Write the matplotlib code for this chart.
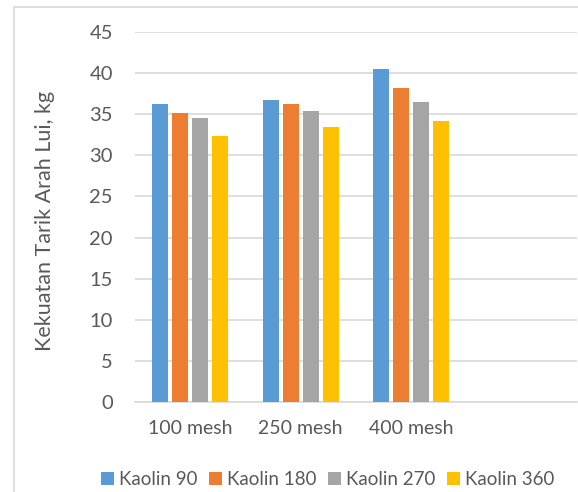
import numpy as np
import matplotlib.pyplot as plt
from matplotlib.patches import Rectangle

categories = ['100 mesh', '250 mesh', '400 mesh', '']
series = ['Kaolin 90', 'Kaolin 180', 'Kaolin 270', 'Kaolin 360']
kaolin_90 = [36.3, 36.7, 40.5]
kaolin_180 = [35.2, 36.3, 38.2]
kaolin_270 = [34.6, 35.4, 36.5]
kaolin_360 = [32.4, 33.5, 34.2]
colors = ['#5B9BD5', '#ED7D31', '#A5A5A5', '#FFC000']

plt.rcParams['font.family'] = ['Lato', 'DejaVu Sans']
text_color = '#595959'
grid_color = '#D9D9D9'

fig = plt.figure(figsize=(5.78, 4.92), dpi=100)

# chart border (Excel style), runs off the right and bottom edge
fig.patches.append(Rectangle((14 / 578, -0.1), 1.0, (492 - 7) / 492 + 0.1,
                             transform=fig.transFigure, fill=False,
                             edgecolor=grid_color, linewidth=1.2))

ax = fig.add_axes([135 / 578, 90 / 492, 442 / 578, 370 / 492])

x = np.arange(len(categories))
step = 0.181
width = 0.145
for i, (name, vals) in enumerate(zip(series, [kaolin_90, kaolin_180, kaolin_270, kaolin_360])):
    xs = np.arange(len(vals))
    ax.bar(xs + (i - 1.5) * step, vals, width, color=colors[i], label=name, zorder=3)

ax.set_ylim(0, 45)
ax.set_yticks(np.arange(0, 46, 5))
ax.set_xlim(-0.5, len(categories) - 0.5)
ax.set_xticks(x)
ax.set_xticklabels(categories)

ax.grid(axis='y', color=grid_color, linewidth=1.2, zorder=0)
for side in ['top', 'right', 'left']:
    ax.spines[side].set_visible(False)
ax.spines['bottom'].set_color(grid_color)
ax.spines['bottom'].set_linewidth(1.2)
ax.tick_params(length=0, labelcolor=text_color)
ax.tick_params(axis='y', labelsize=14.5, pad=16)
ax.tick_params(axis='x', labelsize=14, pad=13)

ax.set_ylabel('Kekuatan Tarik Arah Lui, kg', fontsize=15.5, color=text_color)
ax.yaxis.set_label_coords(-0.18, 0.489)

fig.legend(loc='center', bbox_to_anchor=(0.567, 0.026), ncol=4, frameon=False,
           fontsize=13.5, handlelength=0.69, handleheight=0.69, handletextpad=0.27,
           columnspacing=0.6, labelcolor=text_color)

fig.savefig('out.png', dpi=100)
